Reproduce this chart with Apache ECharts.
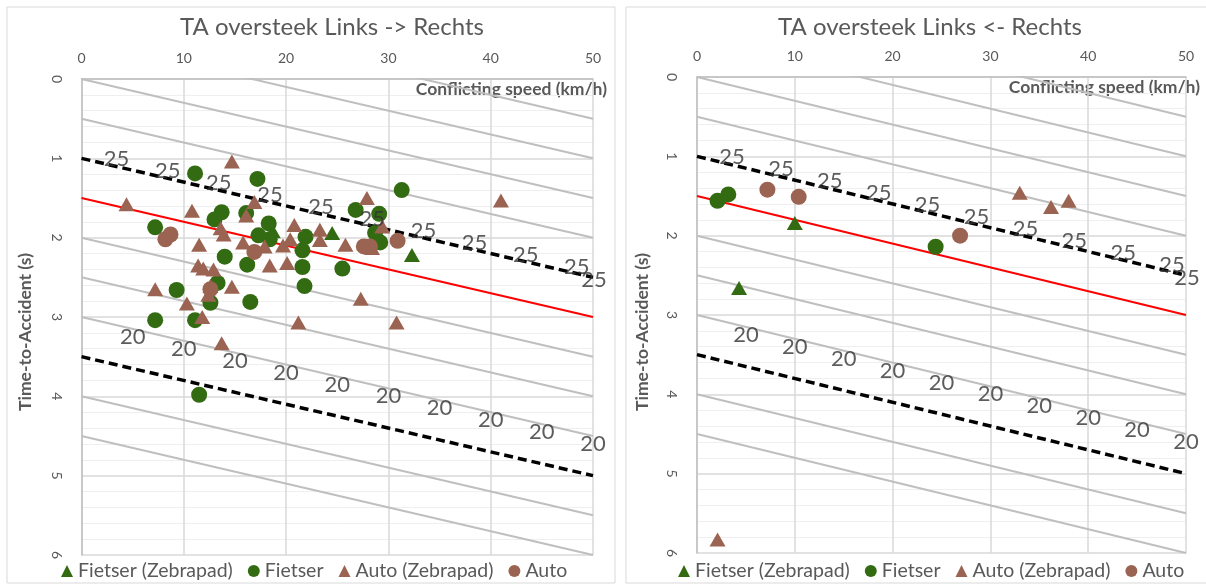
<!DOCTYPE html>
<html>
<head>
<meta charset="utf-8">
<title>TA oversteek</title>
<script src="https://cdn.jsdelivr.net/npm/echarts/dist/echarts.min.js"></script>
<style>
  html, body { margin: 0; padding: 0; background: #ffffff; }
  #chart { width: 1206px; height: 585px; }
</style>
</head>
<body>
<div id="chart"></div>
<script>
// ---- Observations: [conflicting speed (km/h), time-to-accident (s)] ----
const leftFietserZebra = [[18.7, 1.92], [24.5, 1.94], [32.3, 2.22]];
const leftFietser = [
  [11.1, 1.19], [17.2, 1.26], [31.3, 1.40], [26.8, 1.65], [29.1, 1.70],
  [13.7, 1.68], [13.0, 1.77], [16.1, 1.69], [7.2, 1.87], [18.3, 1.82],
  [17.3, 1.97], [18.4, 2.02], [21.9, 1.99], [21.6, 2.16], [28.7, 1.94],
  [29.2, 2.06], [14.0, 2.24], [16.2, 2.34], [21.6, 2.37], [25.5, 2.39],
  [21.8, 2.61], [13.3, 2.57], [9.3, 2.66], [12.6, 2.82], [16.5, 2.81],
  [7.2, 3.04], [11.1, 3.04], [11.5, 3.98]
];
const leftAutoZebra = [
  [14.7, 1.04], [4.4, 1.58], [10.8, 1.66], [16.9, 1.55], [16.1, 1.72],
  [27.9, 1.50], [41.0, 1.53], [13.6, 1.88], [13.9, 1.96], [20.8, 1.84],
  [23.3, 1.90], [29.4, 1.86], [11.5, 2.09], [15.8, 2.06], [17.9, 2.11],
  [19.7, 2.10], [20.4, 2.02], [23.3, 2.03], [25.8, 2.09], [28.4, 2.13],
  [11.4, 2.35], [11.9, 2.39], [12.9, 2.40], [18.4, 2.35], [20.1, 2.32],
  [7.2, 2.65], [12.6, 2.61], [14.7, 2.62], [12.4, 2.72], [10.3, 2.83],
  [27.3, 2.77], [11.8, 3.00], [21.2, 3.07], [30.8, 3.07], [13.7, 3.33]
];
const leftAuto = [[8.2, 2.02], [8.7, 1.96], [16.9, 2.18], [12.6, 2.65], [27.6, 2.11], [28.2, 2.11], [30.9, 2.04]];

const rightFietserZebra = [[10.0, 1.84], [4.3, 2.66]];
const rightFietser = [[2.1, 1.56], [3.2, 1.48], [24.4, 2.14]];
const rightAutoZebra = [[33.0, 1.46], [36.2, 1.64], [38.0, 1.56], [2.1, 5.83]];
const rightAuto = [[7.2, 1.42], [10.4, 1.51], [26.9, 2.00]];

// ---- Reference lines (segments from speed 0 to 50 km/h) ----
const greyLines = [
  [[0, -1.0], [50, 0.5]], [[0, -0.5], [50, 1.0]], [[0, 0.0], [50, 1.5]],
  [[0, 0.5], [50, 2.0]], [[0, 2.0], [50, 3.5]], [[0, 2.5], [50, 4.0]],
  [[0, 3.0], [50, 4.5]], [[0, 4.0], [50, 5.5]], [[0, 4.5], [50, 6.0]]
];
const dashedLines = [[[0, 1.0], [50, 2.5]], [[0, 3.5], [50, 5.0]]];
const redLine = [[0, 1.5], [50, 3.0]];

// Severity level labels placed along the lines
const level25Points = [[0, 1.0], [5, 1.15], [10, 1.3], [15, 1.45], [20, 1.6], [25, 1.75], [30, 1.9], [35, 2.05], [40, 2.2], [45, 2.35], [50, 2.5]];
const level20Points = [[5, 3.15], [10, 3.3], [15, 3.45], [20, 3.6], [25, 3.75], [30, 3.9], [35, 4.05], [40, 4.2], [45, 4.35], [50, 4.5]];
const level25Text = '25';
const level20Text = '20';

const seriesNames = ['Fietser (Zebrapad)', 'Fietser', 'Auto (Zebrapad)', 'Auto'];
const panelTitles = ['TA oversteek Links -> Rechts', 'TA oversteek Links <- Rechts'];
const xAxisName = 'Conflicting speed (km/h)';
const yAxisName = 'Time-to-Accident (s)';

const GREEN = '#336b12';
const BROWN = '#9b6352';
const TEXT = '#595959';
const FONT = 'Lato, "Open Sans", sans-serif';

const panels = [
  { grid: { left: 81.5, top: 79, width: 511.5, height: 476 },
    fz: leftFietserZebra, f: leftFietser, az: leftAutoZebra, a: leftAuto,
    titleX: 332, nameRight: 607, nameY: 89, yNameX: 25, legendLeft: 56 },
  { grid: { left: 697, top: 77, width: 489, height: 476 },
    fz: rightFietserZebra, f: rightFietser, az: rightAutoZebra, a: rightAuto,
    titleX: 930, nameRight: 1200, nameY: 87, yNameX: 642, legendLeft: 673 }
];

const grids = [], xAxes = [], yAxes = [], series = [], graphics = [], legends = [];

panels.forEach((p, i) => {
  grids.push(p.grid);
  xAxes.push({
    gridIndex: i, type: 'value', position: 'top', min: 0, max: 50, interval: 10,
    axisLine: { show: true, lineStyle: { color: '#bfbfbf', width: 1.5 } },
    axisTick: { show: false },
    axisLabel: { color: TEXT, fontSize: 14, fontFamily: FONT, margin: 14 },
    splitLine: { show: true, lineStyle: { color: '#d9d9d9', width: 1.5 } }
  });
  yAxes.push({
    gridIndex: i, type: 'value', inverse: true, min: 0, max: 6, interval: 1,
    axisLine: { show: true, lineStyle: { color: '#bfbfbf', width: 1.5 } },
    axisTick: { show: false },
    axisLabel: { color: TEXT, fontSize: 14, fontFamily: FONT, rotate: -90, margin: 18 },
    splitLine: { show: true, lineStyle: { color: '#d9d9d9', width: 1.5 } },
    minorTick: { show: false, splitNumber: 5 },
    minorSplitLine: { show: true, lineStyle: { color: '#efefef', width: 1 } }
  });

  const ax = { xAxisIndex: i, yAxisIndex: i };
  greyLines.forEach(seg => series.push(Object.assign({
    type: 'line', data: seg, symbol: 'none', silent: true, clip: true, z: 2,
    lineStyle: { color: '#bfbfbf', width: 2 }
  }, ax)));
  dashedLines.forEach(seg => series.push(Object.assign({
    type: 'line', data: seg, symbol: 'none', silent: true, clip: true, z: 3,
    lineStyle: { color: '#000000', width: 3.5, type: [9, 5] }
  }, ax)));
  series.push(Object.assign({
    type: 'line', data: redLine, symbol: 'none', silent: true, clip: true, z: 3,
    lineStyle: { color: '#ff0000', width: 2 }
  }, ax));

  const marks = [
    [seriesNames[0], p.fz, 'triangle', GREEN],
    [seriesNames[1], p.f, 'circle', GREEN],
    [seriesNames[2], p.az, 'triangle', BROWN],
    [seriesNames[3], p.a, 'circle', BROWN]
  ];
  marks.forEach(([name, data, sym, color]) => series.push(Object.assign({
    type: 'scatter', name: name, data: data, symbol: sym,
    symbolSize: sym === 'triangle' ? [16, 14] : 16,
    itemStyle: { color: color, opacity: 1 }, z: 4
  }, ax)));

  const labelSeries = (pts, text, offset, lastOffset) => Object.assign({
    type: 'scatter', data: pts.map((pt, k) => k === pts.length - 1 && lastOffset
      ? { value: pt, label: { offset: lastOffset } } : pt),
    symbolSize: 1, silent: true, z: 6,
    itemStyle: { color: 'rgba(0,0,0,0)' },
    label: { show: true, position: 'inside', formatter: text, offset: offset,
             fontSize: 22, fontFamily: FONT, color: '#333333' }
  }, ax);
  series.push(labelSeries(level25Points, level25Text, [35, 1], [1, 3]));
  series.push(labelSeries(level20Points, level20Text, [0, 8], null));

  graphics.push({
    type: 'rect', shape: { x: i === 0 ? 7 : 626, y: 7, width: i === 0 ? 608 : 600, height: 576 },
    style: { fill: 'none', stroke: '#d9d9d9', lineWidth: 1 }, z: -10
  });
  graphics.push({
    type: 'text', x: p.titleX, y: 27,
    style: { text: panelTitles[i], fill: TEXT, fontSize: 24, fontFamily: FONT,
             textAlign: 'center', textVerticalAlign: 'middle' }
  });
  graphics.push({
    type: 'text', x: p.nameRight, y: p.nameY,
    style: { text: xAxisName, fill: TEXT, fontSize: 17.5, fontWeight: 'bold', fontFamily: FONT,
             textAlign: 'right', textVerticalAlign: 'middle' }
  });
  graphics.push({
    type: 'text', x: p.yNameX, y: 332, rotation: Math.PI / 2,
    style: { text: yAxisName, fill: TEXT, fontSize: 17.5, fontWeight: 'bold', fontFamily: FONT,
             textAlign: 'center', textVerticalAlign: 'middle' }
  });

  legends.push({
    left: p.legendLeft, top: 556, itemWidth: 12, itemHeight: 12, itemGap: 15,
    textStyle: { color: TEXT, fontSize: 19.5, fontFamily: FONT },
    selectedMode: false,
    data: [
      { name: seriesNames[0], icon: 'triangle' },
      { name: seriesNames[1], icon: 'circle' },
      { name: seriesNames[2], icon: 'triangle' },
      { name: seriesNames[3], icon: 'circle' }
    ]
  });
});

const chart = echarts.init(document.getElementById('chart'), null, { renderer: 'canvas' });
chart.setOption({
  backgroundColor: '#ffffff',
  animation: false,
  grid: grids,
  xAxis: xAxes,
  yAxis: yAxes,
  legend: legends,
  series: series,
  graphic: graphics
});
</script>
</body>
</html>
